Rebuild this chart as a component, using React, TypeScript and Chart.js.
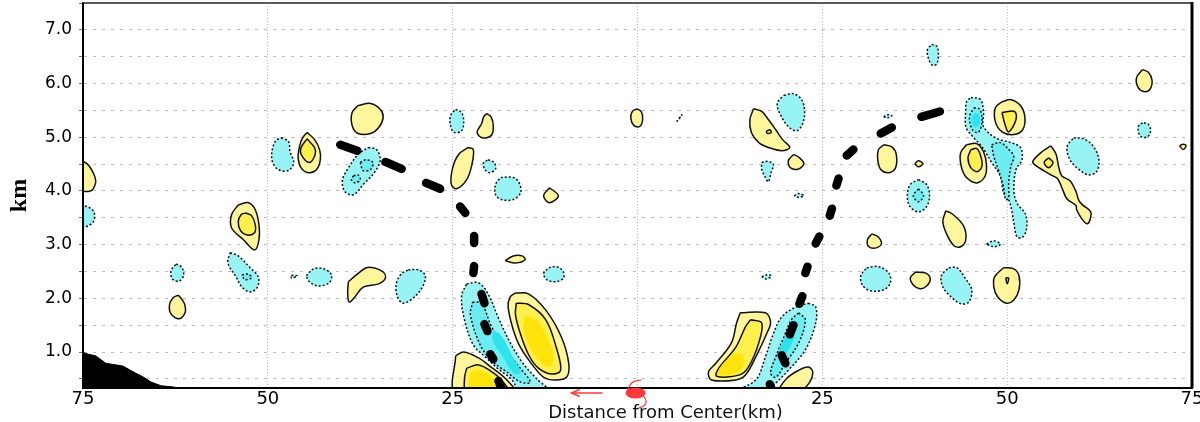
import React, { useEffect, useRef } from 'react';
import { Chart, registerables } from 'chart.js';

Chart.register(...registerables);

type Pt = [number, number];
type Poly = Pt[];

// ---------- axes ----------
const xMin = -75;
const xMax = 75;
const xStep = 25;
const yMin = 0.33;
const yMax = 7.5;
const yStep = 0.5;
const yTitle = 'km';
const xTitle = 'Distance from Center(km)';

// ---------- contour polygons (x: km from centre, left negative; y: km height) ----------
const yellowOuter: Poly[] = [
  [[-75.8, 4.6], [-74.4, 4.5], [-73.5, 4.3], [-73.3, 4.15], [-74.0, 4.0], [-75.8, 4.05]],
  [[-62.1, 2.06], [-61.3, 1.91], [-61.2, 1.73], [-62.0, 1.62], [-63.1, 1.71], [-63.3, 1.88], [-62.8, 2.01]],
  [[-54.0, 3.74], [-52.6, 3.78], [-51.7, 3.65], [-51.2, 3.37], [-51.2, 3.09], [-51.8, 2.9], [-53.3, 3.09], [-54.9, 3.31], [-54.9, 3.56]],
  [[-44.7, 5.09], [-43.7, 4.96], [-43.0, 4.77], [-42.9, 4.58], [-43.4, 4.4], [-44.5, 4.34], [-45.5, 4.43], [-45.9, 4.62], [-45.7, 4.84], [-45.3, 4.99]],
  [[-37.8, 5.59], [-36.1, 5.63], [-34.8, 5.52], [-34.4, 5.37], [-35.0, 5.18], [-36.1, 5.07], [-37.8, 5.07], [-38.6, 5.22], [-38.6, 5.46]],
  [[-20.4, 5.44], [-19.8, 5.38], [-19.5, 5.2], [-19.8, 5.03], [-21.0, 4.99], [-21.7, 5.09], [-21.1, 5.25], [-20.8, 5.38]],
  [[-22.9, 4.81], [-22.2, 4.77], [-22.4, 4.49], [-23.1, 4.21], [-24.5, 4.04], [-25.2, 4.13], [-25.0, 4.43], [-24.2, 4.68]],
  [[-11.9, 4.06], [-10.7, 3.91], [-11.9, 3.78], [-12.7, 3.91]],
  [[-17.9, 2.7], [-16.8, 2.79], [-15.6, 2.79], [-15.2, 2.72], [-16.5, 2.66]],
  [[-39.1, 2.31], [-38.0, 2.44], [-36.7, 2.57], [-35.7, 2.57], [-34.4, 2.49], [-34.1, 2.38], [-35.0, 2.27], [-37.1, 2.21], [-38.2, 2.03], [-39.0, 1.93], [-39.2, 2.12]],
  [[-16.5, 2.1], [-14.7, 2.08], [-12.4, 1.78], [-10.3, 1.28], [-9.3, 0.79], [-9.6, 0.53], [-11.1, 0.48], [-12.7, 0.53], [-14.7, 0.85], [-16.0, 1.13], [-16.8, 1.41], [-17.5, 1.84], [-17.2, 2.03]],
  [[-24.6, 0.93], [-23.5, 1.0], [-21.5, 0.89], [-19.8, 0.72], [-17.9, 0.51], [-16.6, 0.25], [-24.6, 0.25]],
  [[-0.1, 5.53], [0.5, 5.48], [0.7, 5.33], [0.3, 5.2], [-0.5, 5.22], [-0.9, 5.35], [-0.7, 5.48]],
  [[15.7, 5.53], [16.8, 5.48], [17.7, 5.33], [18.7, 5.14], [19.6, 4.96], [20.6, 4.81], [19.5, 4.75], [17.7, 4.81], [16.4, 4.9], [15.4, 5.09], [15.2, 5.33]],
  [[21.1, 4.68], [21.9, 4.62], [22.5, 4.51], [21.8, 4.41], [20.7, 4.43], [20.4, 4.56]],
  [[31.7, 3.2], [32.5, 3.15], [33.0, 3.02], [32.3, 2.94], [31.3, 2.96], [31.1, 3.09]],
  [[13.9, 1.73], [17.3, 1.73], [18.0, 1.56], [17.5, 1.35], [16.0, 0.91], [14.6, 0.57], [13.3, 0.48], [10.0, 0.48], [9.6, 0.63], [10.6, 0.79], [12.7, 1.17], [13.4, 1.54]],
  [[18.8, 0.25], [20.2, 0.51], [21.8, 0.66], [23.1, 0.72], [23.7, 0.63], [23.3, 0.44], [21.8, 0.25]],
  [[33.3, 4.86], [34.4, 4.82], [35.0, 4.68], [34.9, 4.43], [34.0, 4.34], [32.9, 4.4], [32.5, 4.58], [32.6, 4.77]],
  [[68.3, 6.26], [69.1, 6.21], [69.6, 6.06], [69.3, 5.89], [68.5, 5.85], [67.7, 5.93], [67.5, 6.11]],
  [[73.3, 4.84], [73.8, 4.87], [74.2, 4.84], [73.8, 4.77]],
  [[37.5, 4.51], [38.0, 4.56], [38.6, 4.51], [38.0, 4.45]],
  [[41.7, 3.63], [42.6, 3.57], [44.1, 3.35], [44.4, 3.09], [43.7, 2.96], [42.8, 2.98], [41.8, 3.2], [41.3, 3.43]],
  [[37.6, 2.49], [39.0, 2.47], [39.6, 2.36], [39.1, 2.23], [38.2, 2.18], [37.3, 2.25], [36.9, 2.38]],
  [[49.5, 2.57], [50.9, 2.55], [51.6, 2.42], [51.6, 2.16], [50.9, 1.97], [49.9, 1.91], [48.7, 2.03], [48.2, 2.21], [48.3, 2.4]],
  [[49.3, 5.66], [50.5, 5.7], [51.8, 5.59], [52.4, 5.37], [52.1, 5.14], [50.9, 5.05], [49.3, 5.1], [48.4, 5.29], [48.4, 5.55]],
  [[44.5, 4.86], [45.9, 4.88], [46.8, 4.73], [47.2, 4.49], [47.0, 4.27], [45.9, 4.15], [44.5, 4.25], [43.8, 4.45], [43.7, 4.71]],
  [[55.9, 4.84], [56.6, 4.69], [57.0, 4.43], [57.4, 4.28], [58.5, 4.19], [59.3, 3.99], [59.7, 3.82], [60.2, 3.74], [61.3, 3.61], [61.2, 3.46], [60.8, 3.39], [60.1, 3.48], [59.4, 3.65], [59.3, 3.73], [58.1, 3.85], [57.4, 4.06], [56.8, 4.23], [55.9, 4.3], [53.7, 4.49], [53.5, 4.56], [54.7, 4.73]],
];

const yellowMid: Poly[] = [
  [[-53.0, 3.59], [-52.2, 3.54], [-51.7, 3.37], [-51.8, 3.22], [-52.8, 3.18], [-53.7, 3.26], [-54.0, 3.43], [-53.6, 3.56]],
  [[-44.7, 4.97], [-43.7, 4.81], [-43.6, 4.68], [-44.4, 4.53], [-45.5, 4.68], [-45.5, 4.81]],
  [[-16.4, 1.91], [-14.7, 1.88], [-12.4, 1.6], [-11.0, 1.09], [-10.4, 0.66], [-11.6, 0.59], [-13.4, 0.7], [-14.7, 0.94], [-15.8, 1.32], [-16.5, 1.69]],
  [[-23.1, 0.7], [-21.5, 0.76], [-19.9, 0.65], [-18.4, 0.48], [-17.5, 0.25], [-23.1, 0.25], [-23.4, 0.51]],
  [[15.3, 1.6], [16.8, 1.54], [16.4, 1.17], [15.0, 0.72], [13.7, 0.57], [10.7, 0.55], [11.0, 0.7], [13.3, 1.09], [14.6, 1.47]],
  [[49.3, 5.46], [51.0, 5.48], [51.2, 5.33], [50.2, 5.1], [49.7, 5.24]],
  [[45.1, 4.77], [45.9, 4.79], [46.4, 4.66], [46.6, 4.47], [46.0, 4.36], [45.1, 4.43], [44.7, 4.62]],
  [[55.6, 4.62], [56.2, 4.53], [55.6, 4.43], [55.0, 4.53]],
  [[17.4, 5.11], [17.9, 5.14], [18.1, 5.09], [17.6, 5.07]],
  [[49.8, 2.38], [50.2, 2.38], [50.0, 2.27]],
];

const yellowCore: Poly[] = [
  [[-15.3, 1.67], [-13.7, 1.6], [-12.2, 1.28], [-11.4, 0.93], [-11.8, 0.72], [-13.1, 0.81], [-14.5, 1.07], [-15.4, 1.41]],
  [[-22.6, 0.63], [-21.2, 0.66], [-19.9, 0.55], [-18.8, 0.4], [-18.3, 0.25], [-22.6, 0.25]],
  [[13.0, 0.98], [14.3, 0.93], [13.9, 0.65], [11.1, 0.57], [11.1, 0.7]],
];

const cyanOuter: Poly[] = [
  [[-75.8, 3.75], [-74.3, 3.7], [-73.5, 3.6], [-73.6, 3.43], [-74.7, 3.33], [-75.8, 3.35]],
  [[-62.4, 2.64], [-61.6, 2.57], [-61.4, 2.42], [-62.0, 2.32], [-62.9, 2.36], [-63.1, 2.51]],
  [[-55.1, 2.85], [-54.0, 2.79], [-52.4, 2.57], [-51.3, 2.4], [-51.4, 2.21], [-52.4, 2.12], [-53.5, 2.21], [-54.3, 2.4], [-55.4, 2.66]],
  [[-46.8, 2.43], [-46.0, 2.42], [-46.8, 2.38]],
  [[-48.2, 4.99], [-47.2, 4.92], [-47.0, 4.73], [-46.5, 4.53], [-47.2, 4.38], [-48.6, 4.4], [-49.4, 4.55], [-49.4, 4.77], [-48.9, 4.94]],
  [[-36.4, 4.81], [-35.3, 4.77], [-34.8, 4.58], [-35.5, 4.36], [-37.1, 4.12], [-38.4, 3.93], [-39.6, 3.99], [-39.9, 4.21], [-39.1, 4.43], [-37.8, 4.68]],
  [[-24.6, 5.52], [-23.8, 5.46], [-23.5, 5.29], [-23.8, 5.12], [-24.8, 5.09], [-25.3, 5.22], [-25.3, 5.4]],
  [[-20.2, 4.58], [-19.4, 4.53], [-19.2, 4.41], [-20.0, 4.34], [-20.7, 4.41], [-20.8, 4.53]],
  [[-18.5, 4.25], [-16.8, 4.25], [-16.0, 4.15], [-15.8, 3.97], [-16.8, 3.84], [-18.4, 3.84], [-19.2, 3.93], [-19.2, 4.12]],
  [[-12.0, 2.57], [-11.0, 2.59], [-10.1, 2.51], [-10.0, 2.38], [-11.0, 2.31], [-12.2, 2.34], [-12.7, 2.46]],
  [[-44.8, 2.42], [-43.8, 2.55], [-42.5, 2.55], [-41.4, 2.44], [-41.7, 2.29], [-43.2, 2.23], [-44.4, 2.31]],
  [[-31.0, 2.53], [-29.6, 2.53], [-28.7, 2.42], [-29.1, 2.21], [-30.3, 2.01], [-31.7, 1.91], [-32.5, 2.04], [-32.6, 2.29], [-31.9, 2.46]],
  [[-23.1, 2.27], [-21.5, 2.29], [-20.2, 2.08], [-18.8, 1.63], [-17.2, 1.17], [-15.6, 0.81], [-13.7, 0.51], [-11.8, 0.25], [-15.7, 0.25], [-17.1, 0.5], [-18.8, 0.68], [-20.6, 0.91], [-22.2, 1.13], [-23.4, 1.6], [-23.8, 2.04]],
  [[5.3, 5.29], [6.0, 5.42], [5.8, 5.37]],
  [[19.8, 5.78], [21.1, 5.81], [22.2, 5.7], [22.6, 5.48], [22.3, 5.24], [21.5, 5.12], [20.4, 5.2], [19.4, 5.4], [18.9, 5.63]],
  [[16.8, 4.53], [17.7, 4.55], [18.4, 4.49], [18.1, 4.36], [17.7, 4.17], [17.3, 4.25], [16.8, 4.4]],
  [[21.2, 3.91], [21.8, 3.95], [22.5, 3.91], [21.8, 3.88]],
  [[31.0, 2.57], [32.6, 2.59], [34.0, 2.47], [34.2, 2.29], [33.3, 2.16], [31.5, 2.14], [30.4, 2.25], [30.2, 2.42]],
  [[16.8, 2.4], [17.5, 2.44], [18.1, 2.42], [17.5, 2.36]],
  [[23.1, 1.91], [24.1, 1.84], [24.1, 1.54], [22.7, 1.04], [20.4, 0.66], [18.7, 0.42], [17.3, 0.25], [13.0, 0.25], [16.0, 0.48], [17.3, 0.91], [18.4, 1.35], [19.5, 1.65], [21.4, 1.84]],
  [[33.3, 5.38], [33.8, 5.42], [34.4, 5.4], [33.8, 5.36]],
  [[39.8, 6.73], [40.5, 6.69], [40.7, 6.54], [40.5, 6.37], [39.9, 6.34], [39.4, 6.45], [39.2, 6.62]],
  [[68.5, 5.27], [69.1, 5.24], [69.4, 5.12], [69.0, 5.01], [68.1, 5.01], [67.7, 5.14], [67.9, 5.24]],
  [[38.0, 4.21], [39.1, 4.12], [39.5, 3.91], [39.1, 3.71], [38.0, 3.61], [36.8, 3.72], [36.5, 3.93], [36.9, 4.12]],
  [[47.2, 3.01], [48.2, 3.07], [49.1, 3.01], [48.2, 2.96]],
  [[42.1, 2.57], [43.2, 2.57], [44.2, 2.4], [45.2, 2.16], [44.8, 1.93], [43.7, 1.9], [42.4, 2.03], [41.3, 2.21], [41.1, 2.42]],
  [[45.1, 5.74], [46.4, 5.7], [46.8, 5.46], [46.8, 5.2], [48.4, 4.99], [50.5, 4.9], [51.8, 4.81], [52.0, 4.58], [51.2, 4.4], [50.9, 4.02], [51.3, 3.78], [52.5, 3.56], [52.6, 3.28], [52.0, 3.13], [51.3, 3.15], [50.9, 3.41], [50.6, 3.65], [50.2, 3.84], [49.5, 3.97], [49.1, 4.27], [47.9, 4.53], [46.6, 4.82], [45.1, 5.05], [44.4, 5.2], [44.4, 5.52], [44.5, 5.66]],
  [[59.0, 4.99], [60.4, 4.97], [61.7, 4.82], [62.4, 4.58], [62.1, 4.36], [61.0, 4.3], [59.7, 4.4], [58.5, 4.58], [58.1, 4.82]],
];

const cyanMid: Poly[] = [
  [[-53.5, 2.44], [-52.6, 2.45], [-52.2, 2.38], [-53.1, 2.35]],
  [[-37.5, 4.53], [-36.7, 4.58], [-35.8, 4.53], [-36.1, 4.4], [-37.1, 4.38]],
  [[-38.4, 4.28], [-37.8, 4.3], [-37.5, 4.21], [-38.2, 4.15], [-38.7, 4.21]],
  [[-22.3, 1.93], [-21.1, 1.91], [-19.8, 1.49], [-18.0, 1.07], [-16.1, 0.74], [-14.5, 0.44], [-15.8, 0.44], [-17.7, 0.63], [-19.5, 0.81], [-21.2, 1.11], [-22.6, 1.69]],
  [[21.8, 1.73], [22.7, 1.6], [21.8, 1.17], [20.0, 0.79], [18.7, 0.53], [18.0, 0.61], [18.7, 0.91], [19.8, 1.28], [20.8, 1.6]],
  [[38.0, 4.04], [38.7, 3.91], [38.0, 3.8], [37.3, 3.91]],
  [[45.5, 5.55], [46.3, 5.52], [46.6, 5.29], [46.1, 5.09], [45.3, 5.14], [44.9, 5.37]],
  [[47.9, 4.86], [49.1, 4.9], [50.5, 4.73], [50.9, 4.64], [50.5, 4.45], [50.2, 4.15], [50.2, 3.87], [49.8, 3.84], [49.5, 4.08], [48.8, 4.4], [48.2, 4.64]],
];

const cyanCore: Poly[] = [
  [[-19.5, 1.41], [-18.5, 1.32], [-16.8, 0.89], [-15.8, 0.63], [-16.6, 0.59], [-18.1, 0.89], [-19.6, 1.22]],
  [[20.4, 1.35], [21.2, 1.3], [20.4, 1.04], [19.4, 0.91], [19.2, 1.07]],
  [[45.6, 5.45], [46.2, 5.42], [46.3, 5.25], [45.6, 5.18], [45.2, 5.33]],
];

// terrain profile (black area, lower left)
const terrain: Pt[] = [
  [-76, 1.0], [-75.2, 1.0], [-74.3, 0.96], [-73.3, 0.93], [-72.5, 0.85], [-71.9, 0.79], [-70.5, 0.76],
  [-69.6, 0.74], [-68.6, 0.66], [-67.9, 0.61], [-66.8, 0.53], [-65.8, 0.44], [-64.4, 0.37], [-62.8, 0.35],
  [-61.4, 0.31], [-60.5, 0.2],
];

// radius of maximum wind: dashes (start, end)
const rmwLeft: Poly[] = [
  [[-40.2, 4.86], [-37.9, 4.75]],
  [[-34.1, 4.54], [-31.9, 4.41]],
  [[-28.6, 4.15], [-26.7, 4.04]],
  [[-24.0, 3.71], [-23.3, 3.59]],
  [[-22.1, 3.16], [-22.1, 3.03]],
  [[-22.1, 2.6], [-22.2, 2.47]],
  [[-21.1, 2.08], [-20.7, 1.91]],
  [[-20.7, 1.52], [-20.3, 1.39]],
  [[-19.9, 0.96], [-19.5, 0.87]],
  [[-18.8, 0.46], [-18.3, 0.29]],
];
const rmwRight: Poly[] = [
  [[17.9, 0.4], [18.3, 0.25]],
  [[19.5, 0.94], [20.0, 0.79]],
  [[21.1, 1.5], [20.6, 1.33]],
  [[22.3, 2.04], [21.9, 1.9]],
  [[23.0, 2.59], [22.7, 2.47]],
  [[24.6, 3.15], [24.1, 3.02]],
  [[26.3, 3.67], [26.0, 3.54]],
  [[27.2, 4.23], [26.9, 4.1]],
  [[29.2, 4.77], [28.3, 4.66]],
  [[34.4, 5.18], [32.9, 5.07]],
  [[40.9, 5.48], [38.4, 5.38]],
];

// ---------- styles ----------
const C_Y1 = '#fff59c';
const C_Y2 = '#fff04e';
const C_Y3 = '#ffe30a';
const C_C1 = '#98f4f4';
const C_C2 = '#6cedf2';
const C_C3 = '#2ee2ee';

const toData = (p: Pt[], close: boolean) =>
  (close ? [...p, p[0]] : p).map(([x, y]) => ({ x, y }));

function blobSets(polys: Poly[], fill: string, outline: boolean, dotted: boolean, order: number) {
  return polys.map((p) => ({
    type: 'line' as const,
    data: toData(p, true),
    fill: 'shape',
    backgroundColor: fill,
    borderColor: outline ? '#111' : 'rgba(0,0,0,0)',
    borderWidth: outline ? 1.5 : 1,
    borderDash: dotted ? [2, 2] : [],
    tension: 0.35,
    pointRadius: 0,
    pointHoverRadius: 0,
    order,
    clip: 0,
  }));
}

function dashSets(dashes: Poly[]) {
  return dashes.map((d) => ({
    type: 'line' as const,
    data: toData(d, false),
    fill: false,
    borderColor: '#000',
    borderWidth: 8.5,
    borderCapStyle: 'round',
    tension: 0,
    pointRadius: 0,
    pointHoverRadius: 0,
    order: 0,
    clip: 0,
  }));
}

const decor = {
  id: 'decor',
  afterDraw(chart: any) {
    const { ctx, chartArea: a, scales } = chart;
    ctx.save();
    // frame
    ctx.lineCap = 'butt';
    ctx.strokeStyle = '#5a5a5a';
    ctx.lineWidth = 2;
    ctx.beginPath();
    ctx.moveTo(a.left, a.top);
    ctx.lineTo(a.right, a.top);
    ctx.stroke();
    ctx.strokeStyle = '#000';
    ctx.beginPath();
    ctx.moveTo(a.left, a.top);
    ctx.lineTo(a.left, a.bottom);
    ctx.lineTo(a.right, a.bottom);
    ctx.stroke();
    ctx.lineWidth = 3;
    ctx.beginPath();
    ctx.moveTo(a.right, a.top - 1);
    ctx.lineTo(a.right, a.bottom);
    ctx.stroke();

    // x axis title
    ctx.fillStyle = '#111';
    ctx.font = '18px "DejaVu Sans"';
    ctx.textAlign = 'center';
    ctx.textBaseline = 'middle';
    ctx.fillText(xTitle, (a.left + a.right) / 2 + 28, a.bottom + 25);

    // storm-centre symbol and motion arrow
    const c0 = scales.x.getPixelForValue(0);
    const yb = a.bottom;
    ctx.fillStyle = '#ff3a3a';
    ctx.strokeStyle = '#ff3a3a';
    ctx.beginPath();
    ctx.ellipse(c0 - 2, yb + 5, 10, 5.5, 0, 0, Math.PI * 2);
    ctx.fill();
    ctx.lineWidth = 1.2;
    ctx.beginPath();
    ctx.moveTo(c0 - 10, yb + 3);
    ctx.quadraticCurveTo(c0 - 8, yb - 8, c0 + 4, yb - 8);
    ctx.stroke();
    ctx.beginPath();
    ctx.moveTo(c0 + 6, yb + 8);
    ctx.quadraticCurveTo(c0 + 13, yb + 17, c0 + 1, yb + 20);
    ctx.stroke();
    ctx.lineWidth = 1.5;
    const ay = yb + 5;
    ctx.beginPath();
    ctx.moveTo(c0 - 35, ay);
    ctx.lineTo(c0 - 66, ay);
    ctx.stroke();
    ctx.beginPath();
    ctx.moveTo(c0 - 58, ay - 3.5);
    ctx.lineTo(c0 - 66, ay);
    ctx.lineTo(c0 - 58, ay + 3.5);
    ctx.stroke();
    ctx.restore();
  },
};

export default function App() {
  const ref = useRef<HTMLCanvasElement | null>(null);

  useEffect(() => {
    if (!ref.current) return;
    const datasets: any[] = [
      ...dashSets(rmwLeft),
      ...dashSets(rmwRight),
      {
        type: 'line',
        data: toData(terrain, false),
        fill: 'start',
        backgroundColor: '#000',
        borderColor: '#000',
        borderWidth: 1,
        tension: 0,
        pointRadius: 0,
        order: 0,
        clip: 0,
      },
      ...blobSets(yellowCore, C_Y3, false, false, 1),
      ...blobSets(cyanCore, C_C3, false, false, 1),
      ...blobSets(yellowMid, C_Y2, true, false, 2),
      ...blobSets(cyanMid, C_C2, true, true, 2),
      ...blobSets(yellowOuter, C_Y1, true, false, 3),
      ...blobSets(cyanOuter, C_C1, true, true, 3),
    ];

    const chart = new Chart(ref.current, {
      type: 'line',
      data: { datasets },
      options: {
        animation: false,
        responsive: false,
        devicePixelRatio: 1,
        events: [],
        layout: { padding: { left: 0, top: 3, right: 8, bottom: 0 } },
        plugins: {
          legend: { display: false },
          tooltip: { enabled: false },
          title: { display: false },
        },
        scales: {
          x: {
            type: 'linear',
            min: xMin,
            max: xMax,
            ticks: {
              stepSize: xStep,
              autoSkip: false,
              maxRotation: 0,
              padding: 1,
              color: '#000',
              font: { family: '"DejaVu Sans"', size: 18 },
              callback: (v: any) => (Number(v) === 0 ? '' : String(Math.abs(Number(v)))),
            },
            grid: { color: '#bdbdbd', lineWidth: 1, drawTicks: false },
            border: { display: true, color: '#000', width: 2, dash: [1, 2] },
            afterFit: (s: any) => {
              s.height = 34;
              s.paddingLeft = 0;
              s.paddingRight = 0;
            },
          },
          y: {
            type: 'linear',
            min: yMin,
            max: yMax,
            ticks: {
              stepSize: yStep,
              includeBounds: false,
              autoSkip: false,
              padding: 7,
              color: '#000',
              font: { family: '"DejaVu Sans"', size: 17 },
              callback: (v: any) => (Number.isInteger(Number(v)) ? Number(v).toFixed(1) : ''),
            },
            grid: { color: '#bdbdbd', lineWidth: 1, drawTicks: true, tickLength: 4, tickColor: '#777' },
            border: { display: true, color: '#000', width: 2, dash: [3, 6] },
            title: {
              display: true,
              text: yTitle,
              color: '#000',
              font: { family: '"Liberation Serif"', size: 24, weight: 'bold' },
              padding: { top: 5, bottom: 0 },
            },
            afterFit: (s: any) => {
              s.width = 83;
              s.paddingTop = 0;
              s.paddingBottom = 0;
            },
          },
        },
      } as any,
      plugins: [decor],
    });
    return () => chart.destroy();
  }, []);

  return (
    <div style={{ position: 'fixed', left: 0, top: 0, width: 1200, height: 422, background: '#fff' }}>
      <canvas ref={ref} width={1200} height={422} style={{ display: 'block', width: 1200, height: 422 }} />
    </div>
  );
}
